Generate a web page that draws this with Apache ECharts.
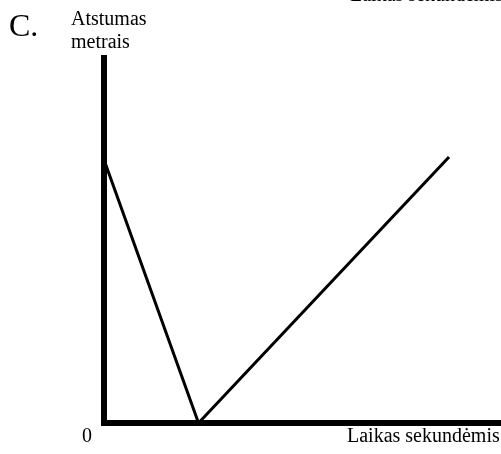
<!DOCTYPE html>
<html>
<head>
<meta charset="utf-8">
<script src="https://cdn.jsdelivr.net/npm/echarts@6/dist/echarts.min.js"></script>
<style>
  html, body { margin: 0; padding: 0; background: #fff; }
  #chart { width: 501px; height: 454px; }
</style>
</head>
<body>
<div id="chart"></div>
<script>
// laikas (s) ir atstumas (m) – taškai nuskaityti nuo paveikslo
const timeValues = [0, 1, 3.65]
const distanceValues = [5.05, 0, 5.1]
const xLabel = 'Laikas sekundėmis'
const yLabel = 'Atstumas\nmetrais'
const panelLabel = 'C.'
const originLabel = '0'

const FONT = '"Liberation Serif", "DejaVu Serif", serif'

const chart = echarts.init(document.getElementById('chart'))

const option = {
  backgroundColor: '#ffffff',
  animation: false,
  grid: { left: 104, right: 0, top: 58, bottom: 31, containLabel: false },
  xAxis: {
    type: 'value',
    min: 0,
    max: 4.2,
    axisLine: { show: true, lineStyle: { color: '#000', width: 6, cap: 'square' } },
    axisTick: { show: false },
    axisLabel: { show: false },
    splitLine: { show: false },
  },
  yAxis: {
    type: 'value',
    min: 0,
    max: 7,
    axisLine: { show: true, lineStyle: { color: '#000', width: 6, cap: 'square' } },
    axisTick: { show: false },
    axisLabel: { show: false },
    splitLine: { show: false },
  },
  series: [
    {
      type: 'line',
      data: timeValues.map((t, i) => [t, distanceValues[i]]),
      showSymbol: false,
      lineStyle: { color: '#000', width: 3 },
      z: 1,
    },
  ],
  graphic: [
    { type: 'text', left: 9, top: 12, style: { text: panelLabel, font: '32px ' + FONT, fill: '#000' } },
    { type: 'text', left: 71, top: 8, style: { text: yLabel, font: '20px ' + FONT, fill: '#000', lineHeight: 23 } },
    { type: 'text', left: 82, top: 427, style: { text: originLabel, font: '20px ' + FONT, fill: '#000' } },
    { type: 'text', left: 347, top: 427, style: { text: xLabel, font: '20px ' + FONT, fill: '#000' } },
    // the label from the panel above, cut off by the top edge
    { type: 'text', left: 350, top: -14, style: { text: xLabel, font: '20px ' + FONT, fill: '#000' } },
  ],
}

chart.setOption(option)
</script>
</body>
</html>
